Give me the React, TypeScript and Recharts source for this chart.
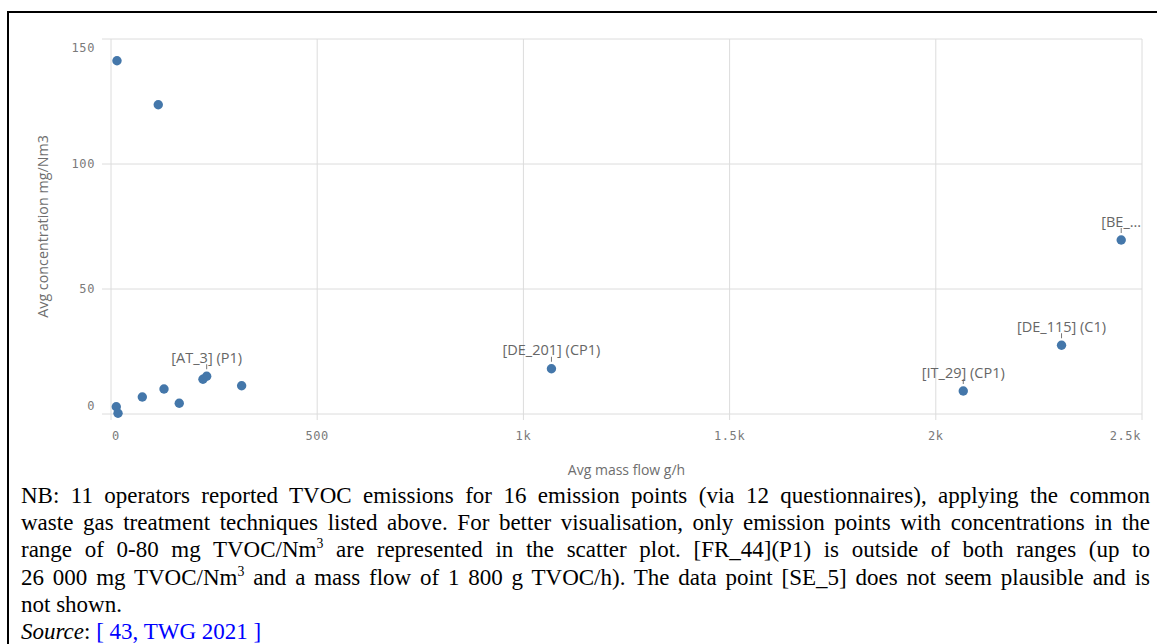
import React from 'react';
import { ScatterChart, Scatter, XAxis, YAxis, CartesianGrid } from 'recharts';

// avg mass flow (g/h) and avg concentration (mg/Nm3) per emission point
const massFlow = [14.5, 114.6, 12.8, 17, 75.9, 128.5, 165.5, 223, 232, 316.8, 1068, 2449.6, 2304.9, 2066.6];
const concentration = [141.3, 123.7, 2.9, 0.3, 6.8, 10, 4.3, 13.9, 15.1, 11.3, 18.1, 69.6, 27.5, 9.2];
const pointLabels = ['', '', '', '', '', '', '', '', '[AT_3] (P1)', '', '[DE_201] (CP1)', '[BE_...', '[DE_115] (C1)', '[IT_29] (CP1)'];

const xTicks = [0, 500, 1000, 1500, 2000, 2500];
const yTicks = [0, 50, 100, 150];

const data = massFlow.map((x, i) => ({ x, y: concentration[i], label: pointLabels[i] }));

const GRID = '#dcdcdc';
const TICK_FONT = '"DejaVu Sans Mono", monospace';
const LABEL_FONT = '"Open Sans", sans-serif';

const fmtX = (v: number) => (v === 0 ? '0' : v < 1000 ? String(v) : `${v / 1000}k`);

const YTick = ({ x, y, payload }: any) => {
  const v = payload.value;
  const dy = v === 150 ? 9 : v === 0 ? -8 : 0;
  return (
    <text x={x} y={y + dy} textAnchor="end" dominantBaseline="central" fill="#7a7a7a"
      fontFamily={TICK_FONT} fontSize={12} letterSpacing={0.6}>
      {v}
    </text>
  );
};

const XTick = ({ x, y, payload }: any) => {
  const v = payload.value;
  const anchor = v === 0 ? 'start' : v === 2500 ? 'end' : 'middle';
  const dx = v === 0 ? 1 : 0;
  return (
    <text x={x + dx} y={y + 16} textAnchor={anchor} dominantBaseline="central" fill="#7a7a7a"
      fontFamily={TICK_FONT} fontSize={12} letterSpacing={0.6}>
      {fmtX(v)}
    </text>
  );
};

const PointShape = (props: any) => {
  const { cx, cy, payload } = props;
  return (
    <g>
      <circle cx={cx} cy={cy} r={4.7} fill="#4477aa" />
      {payload.label ? (
        <g>
          <line x1={cx} x2={cx} y1={cy - 12} y2={cy - 7} stroke="#777" strokeWidth={1} />
          <text x={cx} y={cy - 19} textAnchor="middle" dominantBaseline="central" fill="#666"
            fontFamily={LABEL_FONT} fontSize={14.5}>
            {payload.label}
          </text>
        </g>
      ) : null}
    </g>
  );
};

const lineStyle: React.CSSProperties = {
  textAlign: 'justify',
  textAlignLast: 'justify',
  whiteSpace: 'nowrap',
  height: 27.2,
};

export default function App() {
  return (
    <div style={{ position: 'absolute', left: 0, top: 0, width: 1157, height: 644, overflow: 'hidden', background: '#fff' }}>
      <div style={{ position: 'absolute', left: 7, top: 11, width: 1300, height: 800, borderLeft: '2px solid #000', borderTop: '2px solid #000' }} />
      <div style={{ position: 'absolute', left: 0, top: 0 }}>
        <ScatterChart width={1157} height={480} margin={{ top: 39, right: 15, left: 0, bottom: 0 }}>
          <CartesianGrid stroke={GRID} />
          <XAxis
            type="number"
            dataKey="x"
            domain={[0, 2500]}
            ticks={xTicks}
            height={66}
            axisLine={false}
            tickLine={{ stroke: GRID }}
            tickSize={6}
            tickMargin={0}
            tick={<XTick />}
            label={{ value: 'Avg mass flow g/h', position: 'insideBottom', offset: 5, fill: '#6e6e6e', fontSize: 14, fontFamily: LABEL_FONT }}
          />
          <YAxis
            type="number"
            dataKey="y"
            domain={[0, 150]}
            ticks={yTicks}
            width={111}
            axisLine={false}
            tickLine={{ stroke: GRID }}
            tickSize={9}
            tickMargin={7}
            tick={<YTick />}
            label={{ value: 'Avg concentration mg/Nm3', angle: -90, position: 'insideLeft', offset: 43, fill: '#6e6e6e', fontSize: 14.3, fontFamily: LABEL_FONT, textAnchor: 'middle' }}
          />
          <Scatter data={data} shape={<PointShape />} isAnimationActive={false} />
        </ScatterChart>
      </div>
      <div style={{ position: 'absolute', left: 21, top: 482, width: 1129, fontFamily: '"Liberation Serif", "Times New Roman", serif', fontSize: 23, lineHeight: '27.2px', color: '#000' }}>
        <div style={lineStyle}>NB: 11 operators reported TVOC emissions for 16 emission points (via 12 questionnaires), applying the common</div>
        <div style={lineStyle}>waste gas treatment techniques listed above. For better visualisation, only emission points with concentrations in the</div>
        <div style={lineStyle}>range of 0-80 mg TVOC/Nm<sup style={{ fontSize: '0.6em', lineHeight: 0 }}>3</sup> are represented in the scatter plot. [FR_44](P1) is outside of both ranges (up to</div>
        <div style={lineStyle}>26 000 mg TVOC/Nm<sup style={{ fontSize: '0.6em', lineHeight: 0 }}>3</sup> and a mass flow of 1 800 g TVOC/h). The data point [SE_5] does not seem plausible and is</div>
        <div style={{ height: 27.2 }}>not shown.</div>
        <div style={{ height: 27.2 }}>
          <i>Source</i>: <span style={{ color: '#0000ff' }}>[ 43, TWG 2021 ]</span>
        </div>
      </div>
    </div>
  );
}
